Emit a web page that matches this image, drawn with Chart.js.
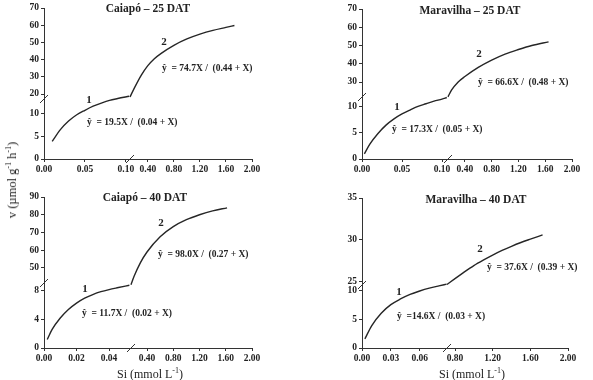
<!DOCTYPE html>
<html>
<head>
<meta charset="utf-8">
<script src="https://cdn.jsdelivr.net/npm/chart.js@4/dist/chart.umd.min.js"></script>
<style>
  html, body { margin: 0; padding: 0; background: #fff; }
  #wrap { position: relative; width: 593px; height: 380px; overflow: hidden; }
  #wrap canvas { position: absolute; left: 0; top: 0; }
  .axtitle { position: absolute; font-family: "Liberation Serif", "Times New Roman", serif; font-size: 12px; font-weight: normal; color: #222; white-space: nowrap; }
  .axtitle sup { font-size: 8px; vertical-align: 5px; }
  #ytitle { left: 12px; top: 180px; font-size: 12.5px; transform: translate(-50%, -50%) rotate(-90deg); }
</style>
</head>
<body>
<div id="wrap">
  <canvas id="c25" width="593" height="380"></canvas>
  <canvas id="m25" width="593" height="380"></canvas>
  <canvas id="c40" width="593" height="380"></canvas>
  <canvas id="m40" width="593" height="380"></canvas>
  <div class="axtitle" id="ytitle">v (µmol g<sup>-1</sup> h<sup>-1</sup>)</div>
  <div class="axtitle" style="left:150px; top:374px; transform: translate(-50%, -50%);">Si (mmol L<sup>-1</sup>)</div>
  <div class="axtitle" style="left:472px; top:374px; transform: translate(-50%, -50%);">Si (mmol L<sup>-1</sup>)</div>
</div>
<script>
// Caiapó - 25 DAT
const c25Title = 'Caiapó – 25 DAT';
const c25Eq1 = 'ŷ  = 19.5X /  (0.04 + X)';
const c25Eq2 = 'ŷ  = 74.7X /  (0.44 + X)';
const c25XTicks1 = [0, 0.05, 0.10];
const c25XTicks2 = [0.40, 0.80, 1.20, 1.60, 2.00];
const c25YTicks1 = [0, 5, 10];
const c25YTicks2 = [20, 30, 40, 50, 60, 70];
const c25Seg1X = [0.01, 0.02, 0.03, 0.04, 0.05, 0.06, 0.07, 0.08, 0.09, 0.104];
const c25Seg1Y = [3.9, 6.5, 8.4, 9.8, 10.8, 11.7, 12.4, 13.0, 13.4, 13.9];
const c25Seg2X = [0.126, 0.2, 0.3, 0.4, 0.5, 0.6, 0.8, 1.0, 1.2, 1.4, 1.6, 1.73];
const c25Seg2Y = [18.3, 24, 31, 36.5, 40.5, 43.5, 48.3, 52, 54.8, 57, 58.7, 59.8];

// Maravilha - 25 DAT
const m25Title = 'Maravilha – 25 DAT';
const m25Eq1 = 'ŷ  = 17.3X /  (0.05 + X)';
const m25Eq2 = 'ŷ  = 66.6X /  (0.48 + X)';
const m25XTicks1 = [0, 0.05, 0.10];
const m25XTicks2 = [0.40, 0.80, 1.20, 1.60, 2.00];
const m25YTicks1 = [0, 5, 10];
const m25YTicks2 = [30, 40, 50, 60, 70];
const m25Seg1X = [0.003, 0.01, 0.02, 0.03, 0.04, 0.05, 0.06, 0.07, 0.08, 0.09, 0.10, 0.106];
const m25Seg1Y = [1.0, 2.9, 4.9, 6.5, 7.7, 8.65, 9.4, 10.1, 10.6, 11.1, 11.5, 11.8];
const m25Seg2X = [0.148, 0.2, 0.3, 0.4, 0.6, 0.8, 1.0, 1.2, 1.4, 1.65];
const m25Seg2Y = [21.9, 25.5, 30, 33, 38, 42, 45.3, 47.8, 50, 52];

// Caiapó - 40 DAT
const c40Title = 'Caiapó – 40 DAT';
const c40Eq1 = 'ŷ  = 11.7X /  (0.02 + X)';
const c40Eq2 = 'ŷ  = 98.0X /  (0.27 + X)';
const c40XTicks1 = [0, 0.02, 0.04];
const c40XTicks2 = [0.40, 0.80, 1.20, 1.60, 2.00];
const c40YTicks1 = [0, 4, 8];
const c40YTicks2 = [50, 60, 70, 80, 90];
const c40Seg1X = [0.002, 0.005, 0.01, 0.015, 0.02, 0.025, 0.03, 0.035, 0.04, 0.045, 0.0525];
const c40Seg1Y = [1.2, 2.6, 4.2, 5.4, 6.3, 7.0, 7.5, 7.9, 8.2, 8.45, 8.8];
const c40Seg2X = [0.156, 0.2, 0.3, 0.4, 0.6, 0.8, 1.0, 1.2, 1.4, 1.62];
const c40Seg2Y = [40.5, 45, 53, 59, 67.6, 73.3, 77.2, 80, 82.2, 83.9];

// Maravilha - 40 DAT
const m40Title = 'Maravilha – 40 DAT';
const m40Eq1 = 'ŷ  =14.6X /  (0.03 + X)';
const m40Eq2 = 'ŷ  = 37.6X /  (0.39 + X)';
const m40XTicks1 = [0, 0.03, 0.06];
const m40XTicks2 = [0.80, 1.20, 1.60, 2.00];
const m40YTicks1 = [0, 5, 10];
const m40YTicks2 = [25, 30, 35];
const m40Seg1X = [0.003, 0.01, 0.02, 0.03, 0.04, 0.05, 0.06, 0.07, 0.08, 0.088];
const m40Seg1Y = [1.6, 3.9, 6.1, 7.6, 8.6, 9.4, 10.0, 10.5, 10.9, 11.2];
const m40Seg2X = [0.715, 0.8, 0.9, 1.0, 1.1, 1.2, 1.3, 1.4, 1.5, 1.6, 1.73];
const m40Seg2Y = [24.7, 25.4, 26.2, 26.95, 27.6, 28.2, 28.75, 29.25, 29.7, 30.1, 30.6];

const SERIF = '"Liberation Serif", "Times New Roman", serif';
const INK = '#222';
const W = 593, H = 380;

// layout of each panel on the page (pixels), axis ranges of the two segments
const panels = [
  { id: 'c25', area: {l: 44, t: 8, r: 252, b: 159}, xBreak: 130, yBreak: 99,
    x1: [0, 0.105], x2: [0.126, 2], y1: [0, 13.3], y2: [17.1, 70],
    xt1: c25XTicks1, xt2: c25XTicks2, yt1: c25YTicks1, yt2: c25YTicks2,
    s1: [c25Seg1X, c25Seg1Y], s2: [c25Seg2X, c25Seg2Y],
    title: c25Title, titleAt: [148, 9], eq1: c25Eq1, eq1At: [87, 123], eq2: c25Eq2, eq2At: [162, 69],
    n1At: [89, 100], n2At: [164, 42] },
  { id: 'm25', area: {l: 362, t: 9, r: 572, b: 159}, xBreak: 448, yBreak: 97,
    x1: [0, 0.1075], x2: [0.148, 2], y1: [0, 11.9], y2: [21.8, 70],
    xt1: m25XTicks1, xt2: m25XTicks2, yt1: m25YTicks1, yt2: m25YTicks2,
    s1: [m25Seg1X, m25Seg1Y], s2: [m25Seg2X, m25Seg2Y],
    title: m25Title, titleAt: [470, 11], eq1: m25Eq1, eq1At: [392, 130], eq2: m25Eq2, eq2At: [478, 83],
    n1At: [397, 107], n2At: [479, 54] },
  { id: 'c40', area: {l: 44, t: 197, r: 252, b: 348}, xBreak: 131, yBreak: 283,
    x1: [0, 0.0535], x2: [0.156, 2], y1: [0, 9.12], y2: [41.5, 90],
    xt1: c40XTicks1, xt2: c40XTicks2, yt1: c40YTicks1, yt2: c40YTicks2,
    s1: [c40Seg1X, c40Seg1Y], s2: [c40Seg2X, c40Seg2Y],
    title: c40Title, titleAt: [145, 198], eq1: c40Eq1, eq1At: [82, 314], eq2: c40Eq2, eq2At: [158, 255],
    n1At: [85, 289], n2At: [161, 223] },
  { id: 'm40', area: {l: 362, t: 198, r: 568, b: 348}, xBreak: 447, yBreak: 285,
    x1: [0, 0.0884], x2: [0.715, 2], y1: [0, 11.05], y2: [24.64, 35],
    xt1: m40XTicks1, xt2: m40XTicks2, yt1: m40YTicks1, yt2: m40YTicks2,
    s1: [m40Seg1X, m40Seg1Y], s2: [m40Seg2X, m40Seg2Y],
    title: m40Title, titleAt: [476, 200], eq1: m40Eq1, eq1At: [397, 317], eq2: m40Eq2, eq2At: [487, 268],
    n1At: [399, 292], n2At: [480, 249] }
];

const YAXIS_W = 30, XAXIS_H = 20;

function axis(pos, range, ticks, weight, digits) {
  return {
    type: 'linear', position: pos, stack: 'brk', stackWeight: weight,
    min: range[0], max: range[1],
    afterBuildTicks: s => { s.ticks = ticks.map(v => ({value: v})); },
    afterFit: s => { if (pos === 'left') s.width = YAXIS_W; else s.height = XAXIS_H; },
    grid: { drawOnChartArea: false, drawTicks: true, tickLength: 3, color: '#333' },
    border: { display: true, color: '#333', width: 1 },
    ticks: {
      autoSkip: false, maxRotation: 0, padding: 2, color: INK,
      font: { family: SERIF, size: 9.5, weight: 'bold' },
      callback: v => digits ? v.toFixed(digits) : String(v)
    }
  };
}

function points(seg) {
  return seg[0].map((x, i) => ({x: x, y: seg[1][i]}));
}

function decoPlugin(p) {
  return {
    id: 'deco_' + p.id,
    afterDraw(chart) {
      const ctx = chart.ctx;
      ctx.save();
      // break marks on both axes
      const yb = chart.scales.y1.top;
      const xb = chart.scales.x1.right;
      const ax = chart.chartArea.left;
      const ay = chart.chartArea.bottom;
      ctx.strokeStyle = '#333';
      ctx.lineWidth = 1;
      ctx.beginPath();
      ctx.moveTo(ax - 4, yb + 4); ctx.lineTo(ax + 4, yb - 4);
      ctx.moveTo(xb - 4, ay + 4); ctx.lineTo(xb + 4, ay - 4);
      ctx.stroke();

      ctx.fillStyle = INK;
      ctx.textBaseline = 'middle';
      ctx.textAlign = 'center';
      ctx.font = 'bold 11.5px ' + SERIF;
      ctx.fillText(p.title, p.titleAt[0], p.titleAt[1]);
      ctx.font = 'bold 11px ' + SERIF;
      ctx.fillText('1', p.n1At[0], p.n1At[1]);
      ctx.fillText('2', p.n2At[0], p.n2At[1]);
      ctx.textAlign = 'left';
      ctx.font = 'bold 9.5px ' + SERIF;
      ctx.fillText(p.eq1, p.eq1At[0], p.eq1At[1]);
      ctx.fillText(p.eq2, p.eq2At[0], p.eq2At[1]);
      ctx.restore();
    }
  };
}

panels.forEach(p => {
  const a = p.area;
  const line = {
    showLine: true, pointRadius: 0, borderColor: '#262626', borderWidth: 1.4,
    cubicInterpolationMode: 'monotone', clip: false
  };
  new Chart(document.getElementById(p.id), {
    type: 'scatter',
    data: {
      datasets: [
        Object.assign({ data: points(p.s1), xAxisID: 'x1', yAxisID: 'y1' }, line),
        Object.assign({ data: points(p.s2), xAxisID: 'x2', yAxisID: 'y2' }, line)
      ]
    },
    options: {
      responsive: false,
      animation: false,
      devicePixelRatio: 1,
      layout: {
        padding: { left: a.l - YAXIS_W, top: a.t, right: W - a.r, bottom: H - a.b - XAXIS_H }
      },
      plugins: { legend: { display: false }, tooltip: { enabled: false } },
      scales: {
        x1: axis('bottom', p.x1, p.xt1, p.xBreak - a.l, 2),
        x2: axis('bottom', p.x2, p.xt2, a.r - p.xBreak, 2),
        y1: axis('left', p.y1, p.yt1, a.b - p.yBreak, 0),
        y2: axis('left', p.y2, p.yt2, p.yBreak - a.t, 0)
      }
    },
    plugins: [decoPlugin(p)]
  });
});
</script>
</body>
</html>
